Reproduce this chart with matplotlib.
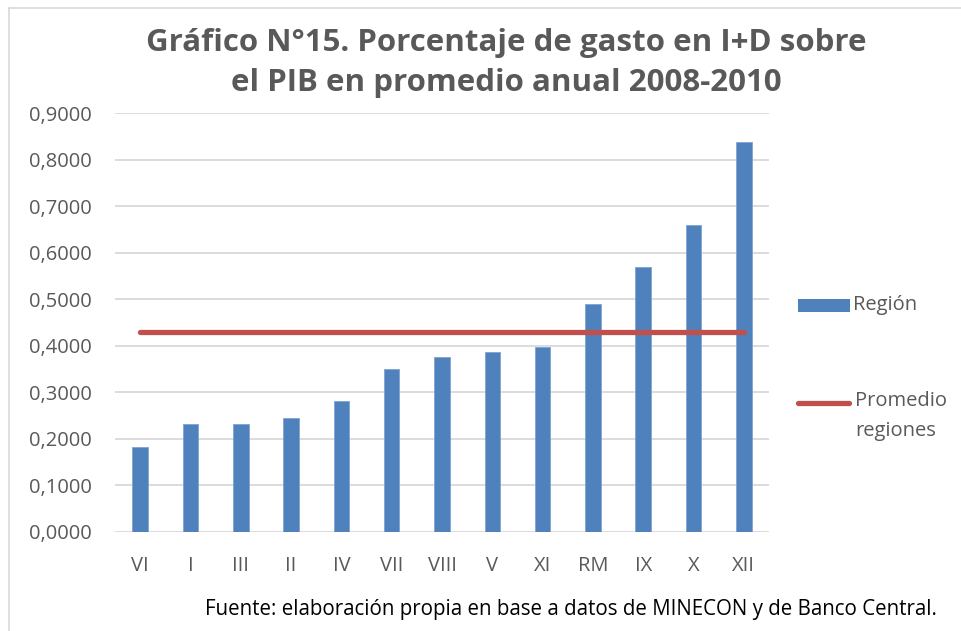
import matplotlib.pyplot as plt
import numpy as np
from matplotlib.lines import Line2D
from matplotlib.patches import Rectangle

TEXT_COLOR = '#595959'
GRID_COLOR = '#d9d9d9'
BAR_COLOR = '#4f81bd'
LINE_COLOR = '#c0504d'

regiones = ['VI', 'I', 'III', 'II', 'IV', 'VII', 'VIII', 'V', 'XI', 'RM', 'IX', 'X', 'XII']
gasto = [0.183, 0.232, 0.232, 0.245, 0.281, 0.350, 0.376, 0.387, 0.397, 0.490, 0.569, 0.659, 0.838]
promedio = [0.430] * len(regiones)

plt.rcParams['font.family'] = ['Open Sans', 'DejaVu Sans']

W, H = 961, 631
fig = plt.figure(figsize=(W / 100, H / 100), dpi=100)
ax = fig.add_axes([115 / W, 1 - 532 / H, 654 / W, 419 / H])

xs = np.arange(len(regiones))
ax.bar(xs, gasto, width=0.31, color=BAR_COLOR, edgecolor='#7fa3d0', linewidth=0.6, zorder=2)
ax.plot(xs, promedio, color=LINE_COLOR, linewidth=3.8, solid_capstyle='round', zorder=3)

ax.set_xlim(-0.5, len(regiones) - 0.5)
ax.set_ylim(0, 0.9)
ticks = np.arange(0, 0.91, 0.1)
ax.set_yticks(ticks)
ax.set_yticklabels(['{:.4f}'.format(v).replace('.', ',') for v in ticks])
ax.set_xticks(xs)
ax.set_xticklabels(regiones)
ax.tick_params(axis='both', length=0, colors=TEXT_COLOR, labelsize=14.5)
ax.tick_params(axis='x', pad=17)
ax.tick_params(axis='y', pad=16.5)
for s in ax.spines.values():
    s.set_visible(False)
ax.yaxis.grid(True, color=GRID_COLOR, linewidth=1.3, zorder=0)
ax.set_axisbelow(True)

fig.text(0.527, 1 - 63 / H, 'Gráfico N°15. Porcentaje de gasto en I+D sobre\nel PIB en promedio anual 2008-2010',
         ha='center', va='center', fontsize=22.5, fontweight='bold', color=TEXT_COLOR, linespacing=1.45)

# legend drawn by hand to match the layout
fig.add_artist(Rectangle((798 / W, 1 - 312 / H), 52 / W, 13 / H, facecolor=BAR_COLOR, edgecolor='none'))
fig.text(853 / W, 1 - 305 / H, 'Región', ha='left', va='center', fontsize=14.5, color=TEXT_COLOR)
fig.add_artist(Line2D([798 / W, 849 / W], [1 - 403 / H, 1 - 403 / H], color=LINE_COLOR,
                      linewidth=3.8, solid_capstyle='round'))
fig.text(855 / W, 1 - 416 / H, 'Promedio\nregiones', ha='left', va='center', fontsize=14.5,
         color=TEXT_COLOR, linespacing=1.65)

fig.text(937 / W, 1 - 610 / H, 'Fuente: elaboración propia en base a datos de MINECON y de Banco Central.',
         ha='right', va='center', fontsize=14.8, color='black')

fig.add_artist(Line2D([8.5 / W, 8.5 / W], [0, 1 - 7.5 / H], color=GRID_COLOR, linewidth=1.2))
fig.add_artist(Line2D([8.5 / W, 1], [1 - 7.5 / H, 1 - 7.5 / H], color=GRID_COLOR, linewidth=1.2))

fig.savefig('out.png', dpi=100)
